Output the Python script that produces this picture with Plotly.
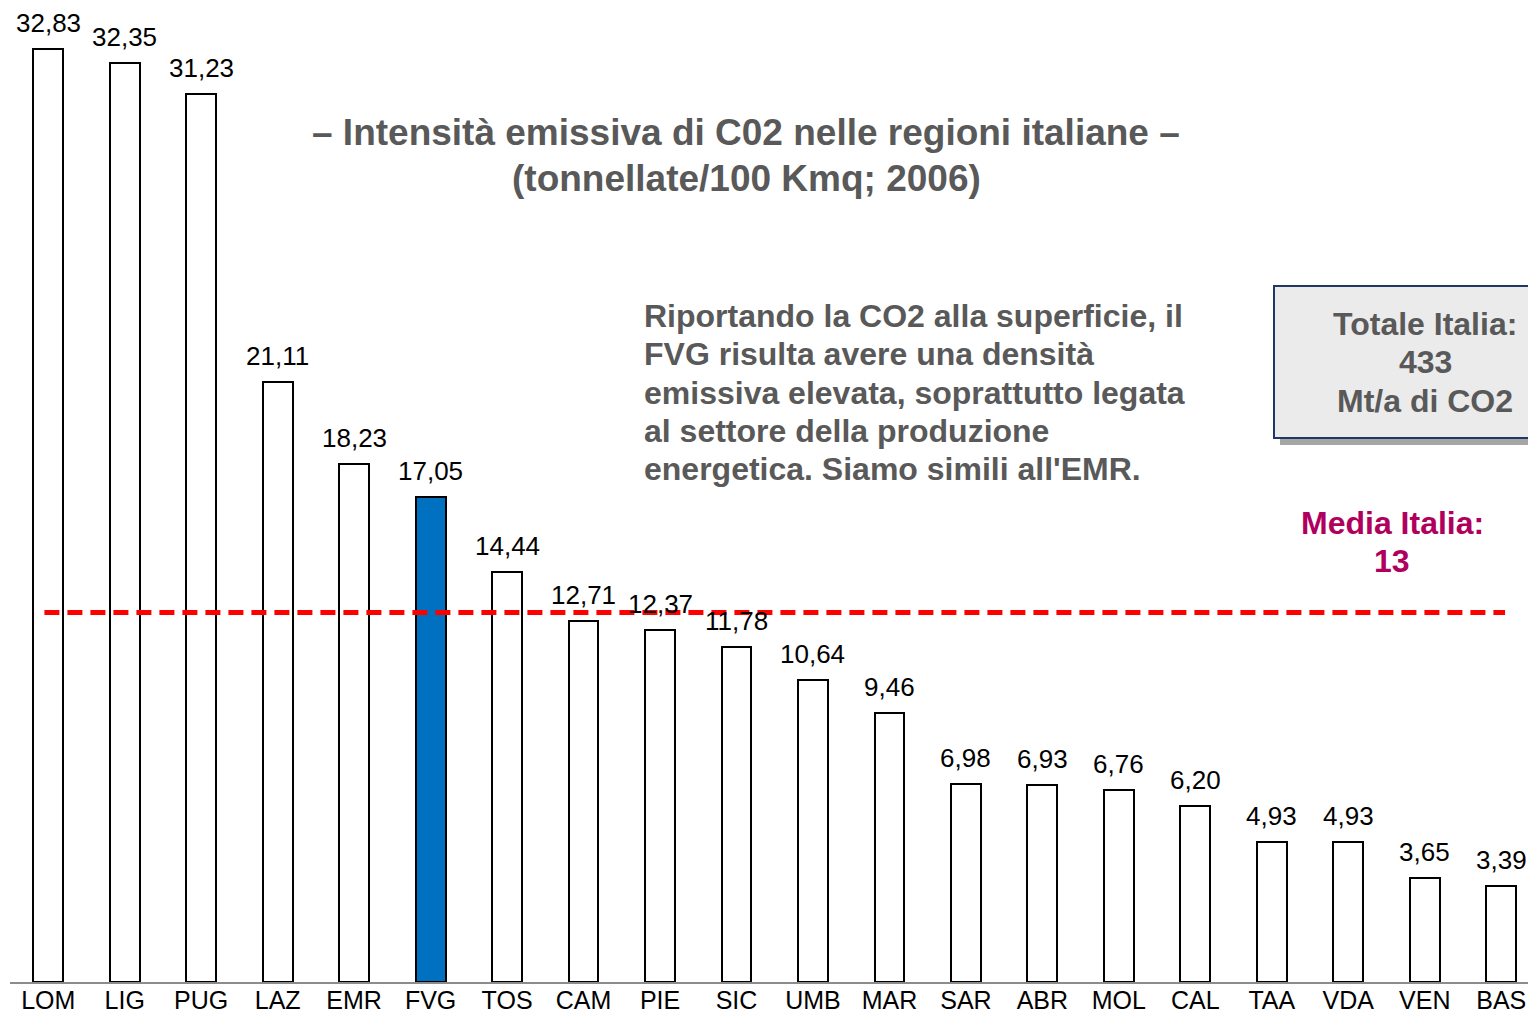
import plotly.graph_objects as go

regions = ["LOM", "LIG", "PUG", "LAZ", "EMR", "FVG", "TOS", "CAM", "PIE", "SIC",
           "UMB", "MAR", "SAR", "ABR", "MOL", "CAL", "TAA", "VDA", "VEN", "BAS"]
intensity = [32.83, 32.35, 31.23, 21.11, 18.23, 17.05, 14.44, 12.71, 12.37, 11.78,
             10.64, 9.46, 6.98, 6.93, 6.76, 6.20, 4.93, 4.93, 3.65, 3.39]
highlight = "FVG"
media_italia = 13
totale_italia = 433

title_lines = ["– Intensità emissiva di C02 nelle regioni italiane –",
               "(tonnellate/100 Kmq; 2006)"]
note_lines = ["Riportando la CO2 alla superficie, il",
              "FVG risulta avere una densità",
              "emissiva elevata, soprattutto legata",
              "al settore della produzione",
              "energetica. Siamo simili all'EMR."]

W, H = 1528, 1011
ML, MR, MT, MB = 10, 0, 0, 29
PW, PH = W - ML - MR, H - MT - MB

def px(x):
    return (x - ML) / PW

def py(y):
    return (MT + PH - y) / PH

FONT = "Liberation Sans, Arial, sans-serif"
GRAY = "#595959"
MAGENTA = "#B0005E"

colors = ["#0070C0" if r == highlight else "white" for r in regions]

fig = go.Figure()
fig.add_trace(go.Bar(
    x=regions, y=intensity, width=0.39,
    marker=dict(color=colors, line=dict(color="black", width=2)),
    hoverinfo="skip",
))

annotations = []
for r, v in zip(regions, intensity):
    annotations.append(dict(
        x=r, y=v, xref="x", yref="y",
        text=f"{v:.2f}".replace(".", ","),
        showarrow=False, yanchor="middle", yshift=26,
        font=dict(family=FONT, size=26, color="black"),
    ))

for i, line in enumerate(title_lines):
    annotations.append(dict(
        x=px(746), y=py(133 + i * 45), xref="paper", yref="paper",
        text=line, showarrow=False, xanchor="center", yanchor="middle",
        font=dict(family=FONT, size=37, color=GRAY, weight="bold"),
    ))

for i, line in enumerate(note_lines):
    annotations.append(dict(
        x=px(642), y=py(316 + i * 38.3), xref="paper", yref="paper",
        text=line, showarrow=False, xanchor="left", yanchor="middle",
        font=dict(family=FONT, size=32, color=GRAY, weight="bold"),
    ))

box_lines = ["Totale Italia:", str(totale_italia), "Mt/a di CO2"]
for i, line in enumerate(box_lines):
    annotations.append(dict(
        x=px(1425), y=py(324 + i * 38.5), xref="paper", yref="paper",
        text=line, showarrow=False, xanchor="center", yanchor="middle",
        font=dict(family=FONT, size=32, color=GRAY, weight="bold"),
    ))

for i, line in enumerate(["Media Italia:", str(media_italia)]):
    annotations.append(dict(
        x=px(1392), y=py(523 + i * 38), xref="paper", yref="paper",
        text=line, showarrow=False, xanchor="center", yanchor="middle",
        font=dict(family=FONT, size=32, color=MAGENTA, weight="bold"),
    ))

shapes = [
    dict(type="rect", xref="paper", yref="paper",
         x0=px(1280), x1=px(1540), y0=py(292), y1=py(445),
         fillcolor="#A6A6A6", line=dict(width=0), layer="below"),
    dict(type="rect", xref="paper", yref="paper",
         x0=px(1274), x1=px(1540), y0=py(286), y1=py(438),
         fillcolor="#EBEBEB", line=dict(color="#203864", width=2), layer="below"),
    dict(type="line", xref="x", yref="y",
         x0=-0.05, x1=19.05, y0=media_italia, y1=media_italia,
         line=dict(color="#FF0000", width=5, dash="15px,8px"), layer="above"),
]

fig.update_layout(
    width=W, height=H,
    margin=dict(l=ML, r=MR, t=MT, b=MB, autoexpand=False),
    paper_bgcolor="white", plot_bgcolor="white",
    showlegend=False,
    annotations=annotations, shapes=shapes,
    xaxis=dict(
        range=[-0.5, 19.35], showgrid=False, zeroline=False,
        showline=True, linecolor="#8C8C8C", linewidth=2,
        ticks="", tickfont=dict(family=FONT, size=25, color="black"),
        ticklabelstandoff=-5,
        automargin=False, fixedrange=True,
    ),
    yaxis=dict(
        range=[0, 34.55], visible=False, showgrid=False, zeroline=False,
        automargin=False, fixedrange=True,
    ),
    bargap=0,
)

fig.write_html(
    "out.html",
    config={"displayModeBar": False},
    post_script="document.body.style.margin='0';document.body.style.overflow='hidden';",
)
